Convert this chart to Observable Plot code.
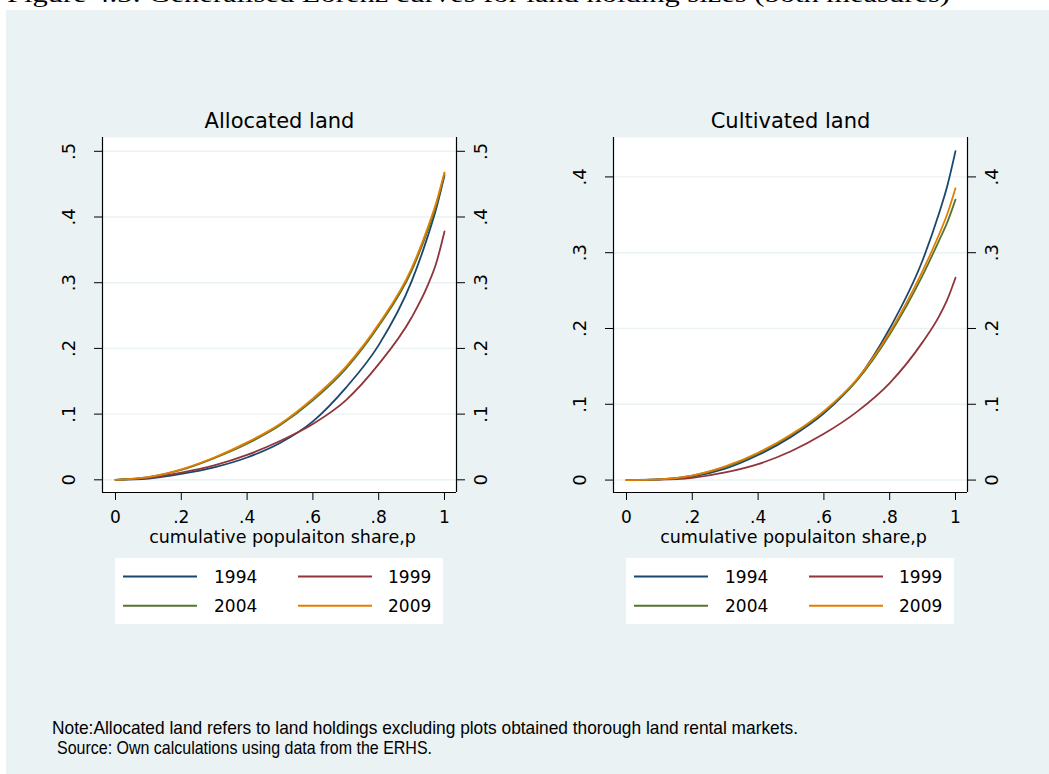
<!DOCTYPE html>
<html>
<head>
<meta charset="utf-8">
<script src="https://cdn.jsdelivr.net/npm/d3@7"></script>
<script src="https://cdn.jsdelivr.net/npm/@observablehq/plot@0.6"></script>
<style>
  html, body { margin: 0; padding: 0; background: #ffffff; }
  #page { position: relative; width: 1049px; height: 774px; overflow: hidden; background: #ffffff; font-family: "DejaVu Sans", sans-serif; }
  #bg { position: absolute; left: 6px; top: 10px; right: 0; bottom: 0; background: #EAF2F3; }
  #figtitle { position: absolute; left: 0; top: 0; }
  .panel { position: absolute; top: 100px; width: 520px; height: 540px; }
  .panel svg { overflow: visible; }
  .legend { position: absolute; background: #ffffff; }
  #note { position: absolute; left: 0; top: 700px; }
</style>
</head>
<body>
<div id="page">
  <div id="bg"></div>
  <svg id="figtitle" width="1049" height="10">
    <text x="7" y="2" font-family="Liberation Serif, serif" font-size="23" textLength="943" lengthAdjust="spacingAndGlyphs" fill="#000">Figure 4.3: Generalised Lorenz curves for land holding sizes (both measures)</text>
  </svg>
  <div id="p1" class="panel" style="left:0px"></div>
  <div id="p2" class="panel" style="left:511px"></div>
  <svg id="note" width="1049" height="74">
    <text x="52" y="33.5" font-family="Liberation Sans, Arial, sans-serif" font-size="18.5" textLength="746" lengthAdjust="spacingAndGlyphs" fill="#000">Note:Allocated land refers to land holdings excluding plots obtained thorough land rental markets.</text>
    <text x="57" y="53.5" font-family="Liberation Sans, Arial, sans-serif" font-size="18.5" textLength="375" lengthAdjust="spacingAndGlyphs" fill="#000">Source: Own calculations using data from the ERHS.</text>
  </svg>
</div>
<script>
// ---- data ----
const years = ["1994", "1999", "2004", "2009"];
const colors = ["#1A476F", "#90353B", "#55752F", "#E37E00"];
const p = [0, 0.1, 0.2, 0.3, 0.4, 0.5, 0.6, 0.7, 0.8, 0.9, 0.95, 0.975, 1];

// Allocated land: generalised Lorenz ordinates
const allocated1994 = [0, 0.002, 0.009, 0.019, 0.034, 0.056, 0.089, 0.140, 0.205, 0.302, 0.372, 0.413, 0.463];
const allocated1999 = [0, 0.003, 0.011, 0.022, 0.038, 0.059, 0.085, 0.121, 0.176, 0.247, 0.297, 0.330, 0.378];
const allocated2004 = [0, 0.004, 0.015, 0.033, 0.055, 0.083, 0.121, 0.169, 0.234, 0.318, 0.381, 0.418, 0.466];
const allocated2009 = [0, 0.004, 0.016, 0.034, 0.057, 0.085, 0.124, 0.172, 0.237, 0.322, 0.385, 0.422, 0.468];

// Cultivated land: generalised Lorenz ordinates
const cultivated1994 = [0, 0.0008, 0.0045, 0.015, 0.033, 0.057, 0.088, 0.132, 0.200, 0.290, 0.352, 0.388, 0.434];
const cultivated1999 = [0, 0.0005, 0.003, 0.010, 0.021, 0.038, 0.061, 0.090, 0.128, 0.182, 0.216, 0.238, 0.267];
const cultivated2004 = [0, 0.001, 0.006, 0.017, 0.035, 0.059, 0.090, 0.131, 0.192, 0.270, 0.316, 0.340, 0.370];
const cultivated2009 = [0, 0.001, 0.006, 0.018, 0.036, 0.060, 0.091, 0.133, 0.195, 0.276, 0.324, 0.351, 0.385];

const xTicks = [0, 0.2, 0.4, 0.6, 0.8, 1];
const xTickLabels = ["0", ".2", ".4", ".6", ".8", "1"];
const yTicksAllocated = [0, 0.1, 0.2, 0.3, 0.4, 0.5];
const yTickLabelsAllocated = ["0", ".1", ".2", ".3", ".4", ".5"];
const yTicksCultivated = [0, 0.1, 0.2, 0.3, 0.4];
const yTickLabelsCultivated = ["0", ".1", ".2", ".3", ".4"];

const xTitle = "cumulative populaiton share,p";
const panelTitles = ["Allocated land", "Cultivated land"];

// ---- drawing ----
const XDOM = [-0.0395, 1.0365];

function makePanel(title, series, yDomain, yTicks, yLabels) {
  const rows = [];
  years.forEach((yr, i) => p.forEach((pp, j) => rows.push({year: yr, p: pp, v: series[i][j]})));
  const yFmt = d => yLabels[yTicks.indexOf(d)];
  const xFmt = d => xTickLabels[xTicks.indexOf(d)];
  return Plot.plot({
    width: 520,
    height: 460,
    marginLeft: 102,
    marginRight: 64,
    marginTop: 37,
    marginBottom: 68,
    x: {domain: XDOM},
    y: {domain: yDomain},
    color: {domain: years, range: colors},
    style: {background: "transparent", fontFamily: "DejaVu Sans, sans-serif", fontSize: "17px", color: "#000", overflow: "visible"},
    marks: [
      Plot.frame({fill: "white", stroke: "none"}),
      Plot.ruleY(yTicks, {stroke: "#EAF2F3", strokeWidth: 1.4}),
      Plot.lineY(rows, {x: "p", y: "v", stroke: "year", strokeWidth: 1.8, curve: "monotone-x"}),
      Plot.ruleX([XDOM[0]], {stroke: "#000", strokeWidth: 1.2}),
      Plot.ruleX([XDOM[1]], {stroke: "#000", strokeWidth: 1.2}),
      Plot.ruleY([yDomain[0]], {stroke: "#000", strokeWidth: 1.2}),
      Plot.axisX({ticks: xTicks, tickSize: 8, tickPadding: 10, tickFormat: xFmt, label: null, fontSize: 17}),
      Plot.axisY({ticks: yTicks, anchor: "left", tickSize: 8, tickFormat: () => "", label: null}),
      Plot.axisY({ticks: yTicks, anchor: "right", tickSize: 8, tickFormat: () => "", label: null}),
      Plot.text(yTicks, {x: XDOM[0], y: d => d, text: yFmt, rotate: -90, dx: -33, textAnchor: "middle", lineAnchor: "middle", fontSize: 18}),
      Plot.text(yTicks, {x: XDOM[1], y: d => d, text: yFmt, rotate: -90, dx: 25, textAnchor: "middle", lineAnchor: "middle", fontSize: 18}),
      Plot.text([xTitle], {text: d => d, frameAnchor: "bottom", dy: 45, dx: 3, lineAnchor: "middle", fontSize: 17.5}),
      Plot.text([title], {text: d => d, frameAnchor: "top", dy: -16.5, lineAnchor: "middle", fontSize: 21})
    ]
  });
}

function makeLegend() {
  const ns = "http://www.w3.org/2000/svg";
  const div = document.createElement("div");
  div.className = "legend";
  div.style.left = "115px";
  div.style.top = "458px";
  div.style.width = "328px";
  div.style.height = "66px";
  const svg = document.createElementNS(ns, "svg");
  svg.setAttribute("width", 328);
  svg.setAttribute("height", 66);
  const rowY = [18.5, 47.8];
  const colLine = [[8, 82], [183, 257]];
  const colText = [99, 273];
  years.forEach((yr, i) => {
    const r = Math.floor(i / 2), c = i % 2;
    const ln = document.createElementNS(ns, "line");
    ln.setAttribute("x1", colLine[c][0]); ln.setAttribute("x2", colLine[c][1]);
    ln.setAttribute("y1", rowY[r]); ln.setAttribute("y2", rowY[r]);
    ln.setAttribute("stroke", colors[i]); ln.setAttribute("stroke-width", 2);
    svg.appendChild(ln);
    const t = document.createElementNS(ns, "text");
    t.setAttribute("x", colText[c]); t.setAttribute("y", rowY[r] + 6.2);
    t.setAttribute("font-family", "DejaVu Sans, sans-serif");
    t.setAttribute("font-size", 17);
    t.setAttribute("fill", "#000");
    t.textContent = yr;
    svg.appendChild(t);
  });
  div.appendChild(svg);
  return div;
}

const p1 = document.getElementById("p1");
p1.appendChild(makePanel(panelTitles[0],
  [allocated1994, allocated1999, allocated2004, allocated2009],
  [-0.0193, 0.521], yTicksAllocated, yTickLabelsAllocated));
p1.appendChild(makeLegend());

const p2 = document.getElementById("p2");
p2.appendChild(makePanel(panelTitles[1],
  [cultivated1994, cultivated1999, cultivated2004, cultivated2009],
  [-0.0164, 0.452], yTicksCultivated, yTickLabelsCultivated));
p2.appendChild(makeLegend());
</script>
</body>
</html>
